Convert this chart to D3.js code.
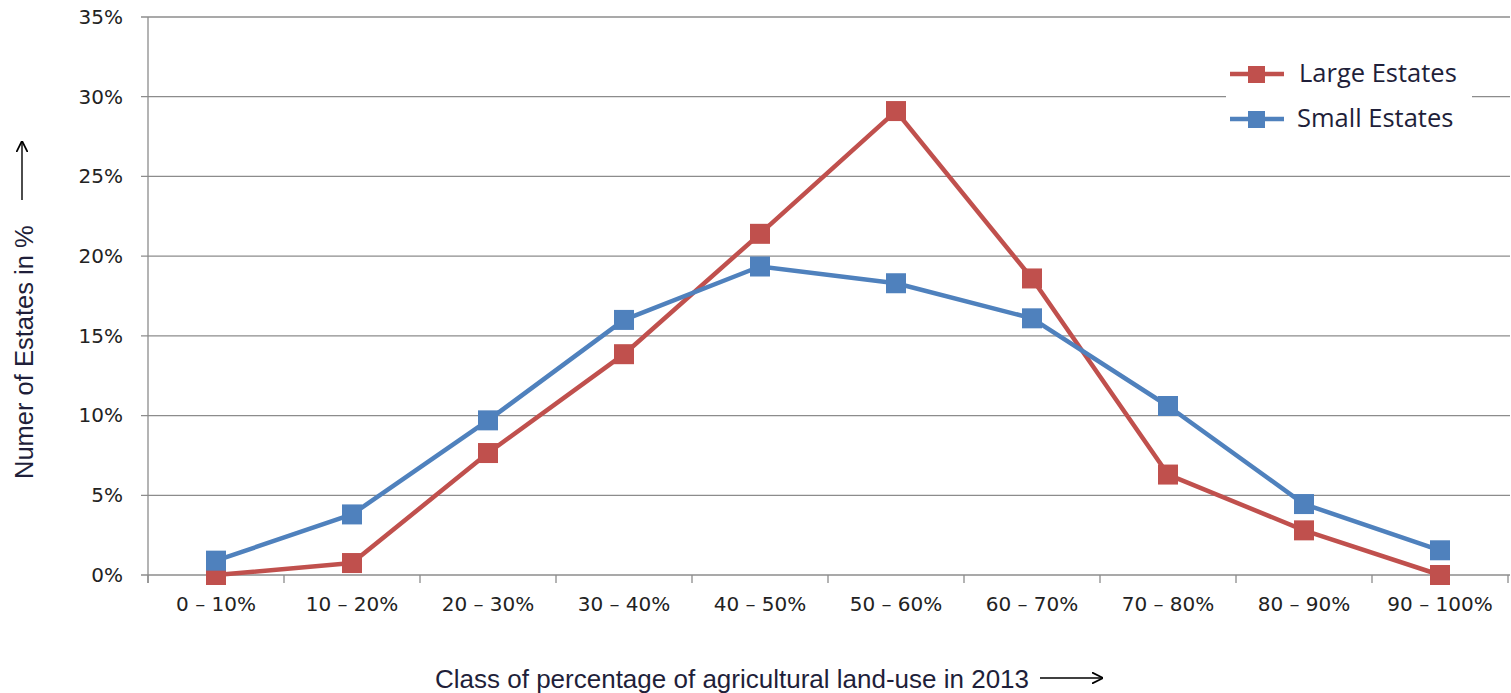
<!DOCTYPE html>
<html>
<head>
<meta charset="utf-8">
<script src="https://cdn.jsdelivr.net/npm/d3@7"></script>
<style>
  html, body { margin: 0; padding: 0; background: #fff; }
  svg { display: block; }
</style>
</head>
<body>
<svg id="chart" width="1511" height="693"></svg>
<script>
// Share of estates per class of agricultural land-use (2013)
const categories = ["0 – 10%", "10 – 20%", "20 – 30%", "30 – 40%", "40 – 50%",
                    "50 – 60%", "60 – 70%", "70 – 80%", "80 – 90%", "90 – 100%"];
const largeEstates = [0.0, 0.75, 7.65, 13.85, 21.4, 29.1, 18.6, 6.3, 2.8, 0.0];
const smallEstates = [0.9, 3.8, 9.7, 16.0, 19.35, 18.3, 16.1, 10.6, 4.45, 1.55];
const yTicks = [0, 5, 10, 15, 20, 25, 30, 35];
const seriesNames = ["Large Estates", "Small Estates"];
const seriesColors = ["#C0504D", "#4F81BD"];

const svg = d3.select("#chart");
const margin = { left: 148, right: 3, top: 17, bottom: 118 };
const W = 1511, H = 693;

const x = d3.scaleBand().domain(categories).range([margin.left, W - margin.right]);
const y = d3.scaleLinear().domain([0, 35]).range([H - margin.bottom, margin.top]);

const tickFont = "DejaVu Sans, Verdana, sans-serif";
const titleFont = "Liberation Sans, Arial, sans-serif";

// horizontal gridlines
svg.append("g").selectAll("line").data(yTicks).join("line")
  .attr("x1", margin.left - 7).attr("x2", W - 1)
  .attr("y1", d => y(d)).attr("y2", d => y(d))
  .attr("stroke", "#8c8c8c").attr("stroke-width", 1.3);

// y axis
const yAxis = d3.axisLeft(y).tickValues(yTicks).tickFormat(d => d + "%").tickSize(0).tickPadding(25);
const gy = svg.append("g").attr("transform", `translate(${margin.left},0)`).call(yAxis);
gy.select(".domain").remove();
gy.attr("font-family", tickFont).attr("font-size", 20);
gy.selectAll("text").attr("fill", "#222");

svg.append("line")
  .attr("x1", margin.left).attr("x2", margin.left)
  .attr("y1", y(35)).attr("y2", y(0) + 8)
  .attr("stroke", "#8c8c8c").attr("stroke-width", 1.3);

// x axis with ticks at band boundaries
const boundaries = categories.map(c => x(c)).concat([x(categories[categories.length - 1]) + x.bandwidth()]);
svg.append("g").selectAll("line").data(boundaries).join("line")
  .attr("x1", d => d).attr("x2", d => d)
  .attr("y1", y(0)).attr("y2", y(0) + 8)
  .attr("stroke", "#8c8c8c").attr("stroke-width", 1.3);

const xAxis = d3.axisBottom(x).tickSize(0).tickPadding(22);
const gx = svg.append("g").attr("transform", `translate(0,${y(0)})`).call(xAxis);
gx.select(".domain").remove();
gx.attr("font-family", tickFont).attr("font-size", 20);
gx.selectAll("text").attr("fill", "#222");

// series lines and square markers
const series = [largeEstates, smallEstates];
const line = d3.line()
  .x((d, i) => x(categories[i]) + x.bandwidth() / 2)
  .y(d => y(d));

[0, 1].forEach(k => {
  const g = svg.append("g");
  g.append("path").datum(series[k])
    .attr("d", line).attr("fill", "none")
    .attr("stroke", seriesColors[k]).attr("stroke-width", 4.5).attr("stroke-linejoin", "round");
  g.selectAll("rect").data(series[k]).join("rect")
    .attr("x", (d, i) => x(categories[i]) + x.bandwidth() / 2 - 10)
    .attr("y", d => y(d) - 10)
    .attr("width", 20).attr("height", 20)
    .attr("fill", seriesColors[k]);
});

// legend
const legend = svg.append("g");
legend.append("rect").attr("x", 1226).attr("y", 55).attr("width", 246).attr("height", 90).attr("fill", "#fff");
seriesNames.forEach((name, k) => {
  const cy = 74 + k * 45;
  legend.append("line").attr("x1", 1230).attr("x2", 1284).attr("y1", cy).attr("y2", cy)
    .attr("stroke", seriesColors[k]).attr("stroke-width", 4.5);
  legend.append("rect").attr("x", 1248).attr("y", cy - 8).attr("width", 17).attr("height", 17)
    .attr("fill", seriesColors[k]);
  legend.append("text").attr("x", k === 0 ? 1299 : 1297).attr("y", cy + 8)
    .attr("font-family", "Open Sans, sans-serif").attr("font-size", 25.5).attr("fill", "#1f1f3a")
    .text(name);
});

// axis titles with arrows
const arrowMarker = svg.append("defs").append("marker")
  .attr("id", "arrow").attr("viewBox", "0 0 10 10").attr("refX", 9).attr("refY", 5)
  .attr("markerWidth", 8).attr("markerHeight", 8).attr("orient", "auto");
arrowMarker.append("path").attr("d", "M0,0 L10,5 L0,10").attr("fill", "none").attr("stroke", "#000").attr("stroke-width", 1.6);

svg.append("text")
  .attr("transform", "translate(33,479) rotate(-90)")
  .attr("font-family", titleFont).attr("font-size", 25.5).attr("fill", "#1f1f3a")
  .text("Numer of Estates in %");
svg.append("line").attr("x1", 22).attr("x2", 22).attr("y1", 200).attr("y2", 142)
  .attr("stroke", "#000").attr("stroke-width", 1.4).attr("marker-end", "url(#arrow)");

svg.append("text")
  .attr("x", 435).attr("y", 688)
  .attr("font-family", titleFont).attr("font-size", 26).attr("fill", "#1f1f3a")
  .text("Class of percentage of agricultural land-use in 2013");
svg.append("line").attr("x1", 1040).attr("x2", 1102).attr("y1", 678).attr("y2", 678)
  .attr("stroke", "#000").attr("stroke-width", 1.4).attr("marker-end", "url(#arrow)");
</script>
</body>
</html>
